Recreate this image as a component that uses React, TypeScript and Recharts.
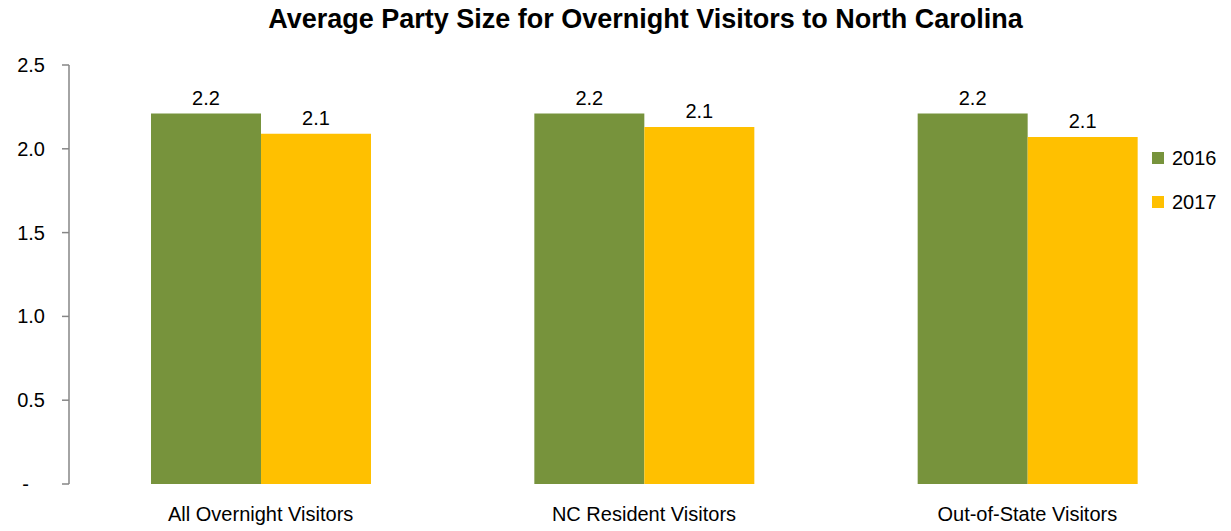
import { BarChart, Bar, XAxis, YAxis, Legend, LabelList } from 'recharts';

const categories = ['All Overnight Visitors', 'NC Resident Visitors', 'Out-of-State Visitors'];
const values2016 = [2.21, 2.21, 2.21];
const values2017 = [2.09, 2.13, 2.07];
const yTicks = [0, 0.5, 1.0, 1.5, 2.0, 2.5];
const boundaryTicks = [0, 1, 2, 3];

const data = categories.map((name, i) => ({
  name,
  pos: i + 0.5,
  y2016: values2016[i],
  y2017: values2017[i],
}));

const FONT = '"Liberation Sans", Arial, sans-serif';
const GREEN = '#77933C';
const YELLOW = '#FFC000';
const AXIS = '#868686';

function LegendBox() {
  const items = [
    { label: '2016', color: GREEN },
    { label: '2017', color: YELLOW },
  ];
  return (
    <div style={{ fontFamily: FONT, fontSize: 20, color: '#000' }}>
      {items.map(it => (
        <div key={it.label} style={{ display: 'flex', alignItems: 'center', height: 44 }}>
          <span style={{ display: 'inline-block', width: 12, height: 12, background: it.color, marginRight: 8 }} />
          <span>{it.label}</span>
        </div>
      ))}
    </div>
  );
}

function YTick(props: any) {
  const { x, y, payload } = props;
  const v = payload.value as number;
  const zero = v === 0;
  return (
    <text
      x={zero ? x - 16 : x}
      y={y}
      dy={7}
      textAnchor="end"
      fontFamily={FONT}
      fontSize={20}
      fill="#000"
    >
      {zero ? '-' : v.toFixed(1)}
    </text>
  );
}

export default function App() {
  return (
    <div style={{ position: 'absolute', left: 0, top: 0, width: 1231, height: 531, background: '#fff' }}>
      <div
        style={{
          position: 'absolute',
          top: 4,
          left: 0,
          width: 1291,
          textAlign: 'center',
          fontFamily: FONT,
          fontWeight: 'bold',
          fontSize: 27,
          color: '#000',
        }}
      >
        Average Party Size for Overnight Visitors to North Carolina
      </div>
      <BarChart
        width={1231}
        height={531}
        data={data}
        margin={{ top: 65, right: 12, bottom: 0, left: 9 }}
        barGap={0}
      >
        <XAxis
          xAxisId="edge"
          type="number"
          dataKey="pos"
          domain={[0, 3]}
          ticks={boundaryTicks}
          tick={false}
          tickSize={8}
          height={0}
          stroke={AXIS}
          axisLine={{ stroke: AXIS, strokeWidth: 1.5 }}
          tickLine={{ stroke: AXIS, strokeWidth: 1.5 }}
        />
        <XAxis
          dataKey="name"
          axisLine={false}
          tickLine={false}
          tickSize={0}
          tickMargin={23}
          height={47}
          interval={0}
          tick={{ fontFamily: FONT, fontSize: 20, fill: '#000' }}
        />
        <YAxis
          width={60}
          domain={[0, 2.5]}
          ticks={yTicks}
          tickSize={7}
          tickMargin={17}
          axisLine={{ stroke: AXIS, strokeWidth: 1.5 }}
          tickLine={{ stroke: AXIS, strokeWidth: 1.5 }}
          tick={<YTick />}
        />
        <Legend
          layout="vertical"
          align="center"
          verticalAlign="middle"
          content={() => <LegendBox />}
          wrapperStyle={{ left: 1152, top: 136, width: 80 }}
        />
        <Bar dataKey="y2016" name="2016" fill={GREEN} barSize={110} isAnimationActive={false}>
          <LabelList
            dataKey="y2016"
            position="top"
            offset={9}
            formatter={(v: number) => v.toFixed(1)}
            style={{ fontFamily: FONT, fontSize: 20, fill: '#000' }}
          />
        </Bar>
        <Bar dataKey="y2017" name="2017" fill={YELLOW} barSize={110} isAnimationActive={false}>
          <LabelList
            dataKey="y2017"
            position="top"
            offset={9}
            formatter={(v: number) => v.toFixed(1)}
            style={{ fontFamily: FONT, fontSize: 20, fill: '#000' }}
          />
        </Bar>
      </BarChart>
    </div>
  );
}
